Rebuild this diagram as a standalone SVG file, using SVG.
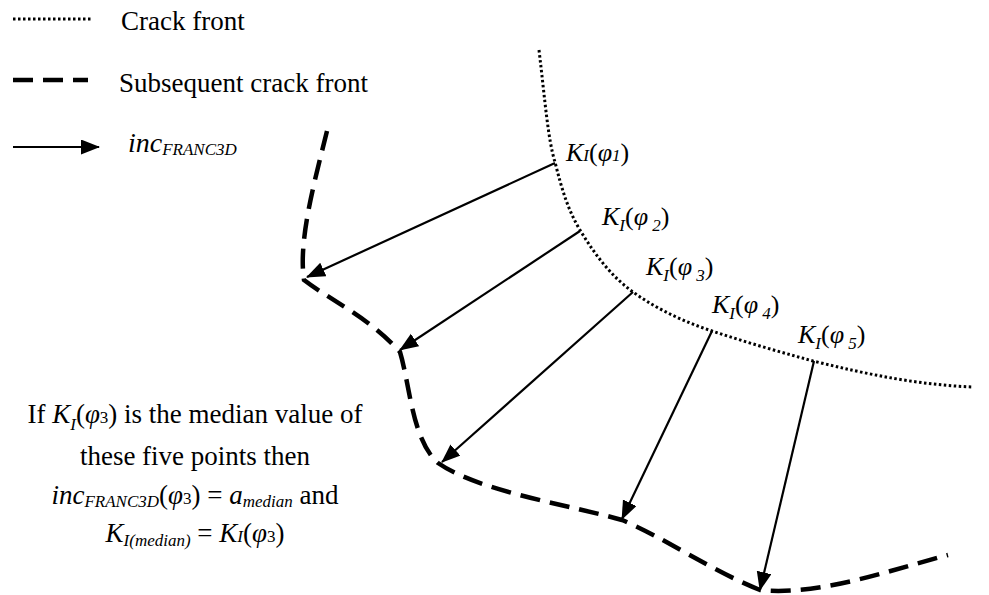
<svg xmlns="http://www.w3.org/2000/svg" width="989" height="595" viewBox="0 0 989 595">
<style>
  text { font-family: "Liberation Serif", "Times New Roman", serif; fill: #000; }
  .lbl { font-size: 27px; }
  .k { font-size: 26px; }
  .it { font-style: italic; }
  .sm { font-size: 17px; }
  .dot { fill: none; stroke: #000; stroke-width: 3; stroke-dasharray: 2.5 2.5; }
  .dash { fill: none; stroke: #000; stroke-width: 4.5; stroke-dasharray: 20 10; }
  .arr { fill: none; stroke: #000; stroke-width: 2.2; marker-end: url(#ah); }
</style>
<defs>
  <marker id="ah" markerUnits="userSpaceOnUse" markerWidth="20" markerHeight="16" refX="18" refY="7.5" orient="auto">
    <path d="M0,0 L19,7.5 L0,15 Z" fill="#000"/>
  </marker>
</defs>
<rect width="989" height="595" fill="#fff"/>

<g id="legend">
  <line class="dot" x1="13" y1="19" x2="91" y2="19" stroke-width="2.5"/>
  <text class="lbl" x="121" y="30">Crack front</text>
  <line class="dash" x1="13" y1="80" x2="88" y2="80" stroke-dasharray="22 10"/>
  <text class="lbl" x="119" y="92">Subsequent crack front</text>
  <line class="arr" x1="13" y1="147" x2="99" y2="147"/>
  <text x="128" y="152"><tspan class="it" font-size="28">inc</tspan><tspan class="it sm" dy="3">FRANC3D</tspan></text>
</g>

<g id="crack-front">
  <path class="dot" d="M539,50 C545,100 548,140 555,162 C562,190 568,210 580,230 C595,255 612,277 633,292 C658,310 685,322 712,331 C745,342 780,352 813,361 C870,375 920,385 973,387"/>
</g>

<g id="subsequent-crack-front">
  <path class="dash" d="M327,131 C315,180 298,240 304,280 C330,300 370,318 400,352 C410,385 412,440 438,463 C480,492 570,505 622,520 C665,538 710,570 760,590 C820,596 890,570 948,555"/>
</g>

<g id="connectors">
  <line class="arr" x1="555" y1="163" x2="307" y2="277"/>
  <line class="arr" x1="580" y1="231" x2="400" y2="350"/>
  <line class="arr" x1="633" y1="292" x2="442" y2="462"/>
  <line class="arr" x1="712" y1="331" x2="622" y2="519"/>
  <line class="arr" x1="814" y1="361" x2="760" y2="590"/>
</g>

<g id="k1">
  <text class="k" x="566" y="161"><tspan class="it">K</tspan><tspan class="it sm">I</tspan>(<tspan class="it">φ</tspan><tspan class="it sm">1</tspan>)</text>
</g>
<g id="k2">
  <text class="k" x="602" y="225"><tspan class="it">K</tspan><tspan class="it sm" dy="6">I</tspan><tspan dy="-6">(</tspan><tspan class="it">φ</tspan><tspan class="it sm" dy="6"> 2</tspan><tspan dy="-6">)</tspan></text>
</g>
<g id="k3">
  <text class="k" x="646" y="275"><tspan class="it">K</tspan><tspan class="it sm" dy="6">I</tspan><tspan dy="-6">(</tspan><tspan class="it">φ</tspan><tspan class="it sm" dy="6"> 3</tspan><tspan dy="-6">)</tspan></text>
</g>
<g id="k4">
  <text class="k" x="712" y="313"><tspan class="it">K</tspan><tspan class="it sm" dy="6">I</tspan><tspan dy="-6">(</tspan><tspan class="it">φ</tspan><tspan class="it sm" dy="6"> 4</tspan><tspan dy="-6">)</tspan></text>
</g>
<g id="k5">
  <text class="k" x="798" y="343"><tspan class="it">K</tspan><tspan class="it sm" dy="6">I</tspan><tspan dy="-6">(</tspan><tspan class="it">φ</tspan><tspan class="it sm" dy="6"> 5</tspan><tspan dy="-6">)</tspan></text>
</g>

<g id="note">
  <text class="lbl" x="195" y="423" text-anchor="middle">If <tspan class="it">K</tspan><tspan class="it sm" dy="7">I</tspan><tspan dy="-7">(</tspan><tspan class="it">φ</tspan><tspan class="sm">3</tspan>) is the median value of</text>
  <text class="lbl" x="195" y="465" text-anchor="middle">these five points then</text>
  <text class="lbl" x="195" y="504" text-anchor="middle"><tspan class="it">inc</tspan><tspan class="it sm" dy="3">FRANC3D</tspan><tspan dy="-3">(</tspan><tspan class="it">φ</tspan><tspan class="sm">3</tspan>)  = <tspan class="it">a</tspan><tspan class="it sm" dy="3">median</tspan><tspan dy="-3"> and</tspan></text>
  <text class="lbl" x="195" y="542" text-anchor="middle"><tspan class="it">K</tspan><tspan class="it sm" dy="4">I(median)</tspan><tspan dy="-4"> = </tspan><tspan class="it">K</tspan><tspan class="it sm">I</tspan>(<tspan class="it">φ</tspan><tspan class="sm">3</tspan>)</text>
</g>
</svg>
